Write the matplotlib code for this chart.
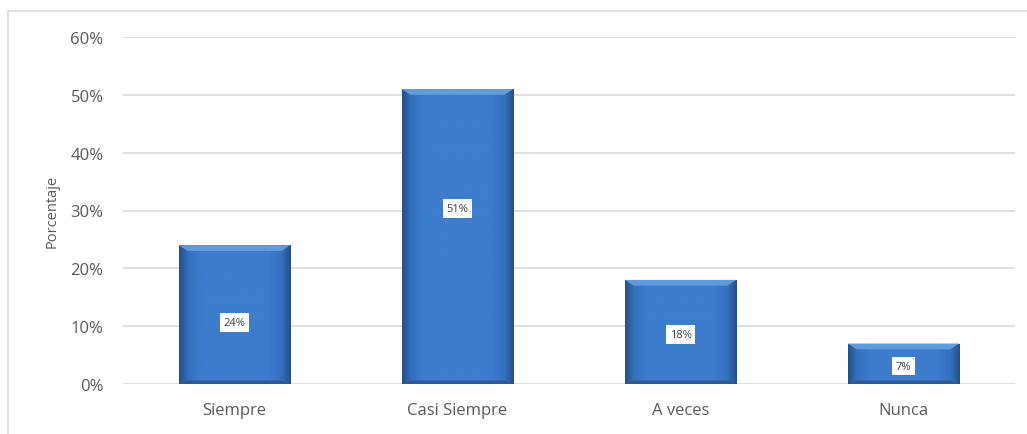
import matplotlib.pyplot as plt
import numpy as np
from matplotlib.colors import LinearSegmentedColormap

categories = ["Siempre", "Casi Siempre", "A veces", "Nunca"]
values = [24, 51, 18, 7]
value_labels = ["24%", "51%", "18%", "7%"]
label_heights = [10.7, 30.3, 8.5, 3.1]  # where Excel put the data labels

plt.rcParams["font.family"] = ["Open Sans", "DejaVu Sans"]

fig = plt.figure(figsize=(10.27, 4.35), dpi=100)
ax = fig.add_axes([123 / 1027, 50 / 435, 892 / 1027, 347 / 435])

# light frame around the chart area (only top/left edges are in view)
fig.add_artist(plt.Line2D([8 / 1027, 1], [423 / 435, 423 / 435],
                          color="#d9d9d9", linewidth=1.2, transform=fig.transFigure))
fig.add_artist(plt.Line2D([8 / 1027, 8 / 1027], [0, 423 / 435],
                          color="#d9d9d9", linewidth=1.2, transform=fig.transFigure))

x = np.arange(len(categories))
width = 0.5

# horizontal gradient: narrow dark edges, flat mid-blue face
cmap = LinearSegmentedColormap.from_list(
    "bevel", [(0.0, "#24518a"), (0.08, "#3370bd"), (0.2, "#3c7dcd"),
              (0.8, "#3c7dcd"), (0.92, "#3370bd"), (1.0, "#24518a")])
grad = np.linspace(0, 1, 200).reshape(1, -1)

bars = ax.bar(x, values, width=width, color="#3a79c9", zorder=2)
for b in bars:
    x0, w, h = b.get_x(), b.get_width(), b.get_height()
    im = ax.imshow(grad, cmap=cmap, aspect="auto", extent=(x0, x0 + w, 0, h),
                   zorder=3, interpolation="bicubic")
    im.set_clip_path(b)
    # lighter bevel along the top, darker along the bottom
    ax.fill([x0, x0 + w, x0 + w - 0.04, x0 + 0.04], [h, h, h - 1.0, h - 1.0],
            color="#5f9be0", linewidth=0, zorder=4)
    ax.fill([x0, x0 + w, x0 + w - 0.04, x0 + 0.04], [0, 0, 0.6, 0.6],
            color="#2a5a98", linewidth=0, zorder=4)

for xi, lab, ly in zip(x, value_labels, label_heights):
    ax.text(xi, ly, lab, ha="center", va="center", fontsize=8, color="#404040",
            zorder=5, bbox=dict(boxstyle="square,pad=0.35", facecolor="white",
                                edgecolor="none"))

ax.set_xlim(-0.5, len(categories) - 0.5)
ax.set_ylim(0, 60)
ax.set_yticks(np.arange(0, 61, 10))
ax.set_yticklabels([f"{t}%" for t in range(0, 61, 10)])
ax.set_xticks(x)
ax.set_xticklabels(categories)
ax.tick_params(axis="both", length=0, labelsize=12, labelcolor="#595959")
ax.tick_params(axis="y", pad=14)
ax.tick_params(axis="x", pad=13)
ax.grid(axis="y", color="#d9d9d9", linewidth=1.2, zorder=0)
ax.set_axisbelow(True)
for s in ax.spines.values():
    s.set_visible(False)

ax.set_ylabel("Porcentaje", fontsize=10.5, color="#595959", labelpad=8)

fig.savefig("out.png", dpi=100)
